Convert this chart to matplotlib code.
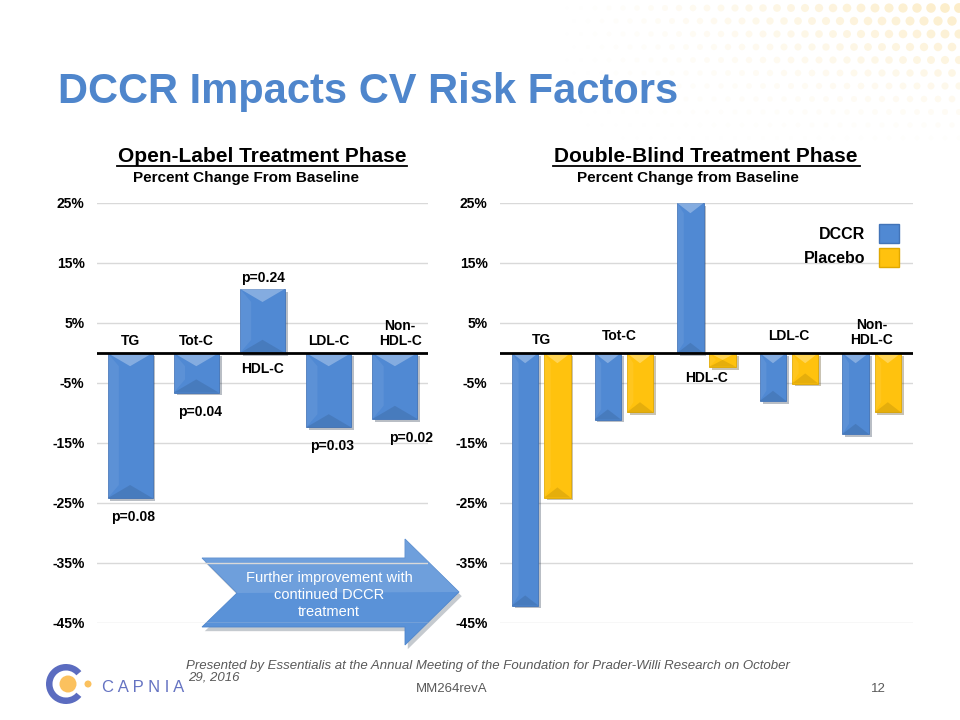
import numpy as np
import matplotlib
matplotlib.use('Agg')
from matplotlib import pyplot as plt
from matplotlib.patches import Polygon, Wedge, Circle, Patch
from matplotlib import patheffects as pe

plt.rcParams['font.family'] = ['Liberation Sans', 'DejaVu Sans']

# data
categories = ['TG', 'Tot-C', 'HDL-C', 'LDL-C', 'Non-\nHDL-C']
open_label = [-24.2, -6.6, 10.7, -12.4, -11.0]
open_pvals = ['p=0.08', 'p=0.04', 'p=0.24', 'p=0.03', 'p=0.02']
dccr = [-42.1, -11.1, 25.0, -8.0, -13.5]
placebo = [-24.1, -9.9, -2.3, -5.1, -9.9]
yticks = [25, 15, 5, -5, -15, -25, -35, -45]

BLUE = '#5089D3'
BLUE_EDGE = '#4274B8'
GOLD = '#FFC20E'
GOLD_EDGE = '#E0A800'
W, H = 960, 720


def px(x, y):
    # pixel position (from top-left) -> figure fraction
    return x / W, 1 - y / H


def style_axes(ax):
    ax.set_ylim(-45, 25)
    ax.set_xlim(-0.5, 4.5)
    ax.set_yticks(yticks)
    ax.set_yticklabels(['%d%%' % v for v in yticks], fontsize=10, fontweight='bold')
    ax.set_xticks([])
    ax.tick_params(axis='y', length=0, pad=9)
    for s in ax.spines.values():
        s.set_visible(False)
    ax.yaxis.grid(True, color='#D9D9D9', lw=1)
    ax.set_axisbelow(True)
    ax.axhline(0, color='black', lw=2, zorder=5)
    ax.patch.set_alpha(0)


def bevel(ax, bars, depth):
    for r in bars:
        x0 = r.get_x()
        x1 = x0 + r.get_width()
        xc = (x0 + x1) / 2
        y0 = r.get_y()
        y1 = y0 + r.get_height()
        top, bot = max(y0, y1), min(y0, y1)
        d = min(depth, (top - bot) / 2)
        ax.add_patch(Polygon([(x0, top), (x1, top), (xc, top - d)], closed=True,
                             facecolor='white', alpha=0.3, lw=0, zorder=4))
        ax.add_patch(Polygon([(x0, bot), (x1, bot), (xc, bot + d)], closed=True,
                             facecolor='black', alpha=0.1, lw=0, zorder=4))
        ax.add_patch(Polygon([(x0, top), (x0 + (x1 - x0) * 0.25, top - d),
                              (x0 + (x1 - x0) * 0.25, bot + d), (x0, bot)], closed=True,
                             facecolor='white', alpha=0.07, lw=0, zorder=4))


shadow = [pe.SimplePatchShadow(offset=(2, -2), alpha=0.3), pe.Normal()]

fig = plt.figure(figsize=(9.6, 7.2), dpi=100)

# faint dotted background in the top right corner
bg = fig.add_axes([0, 0, 1, 1])
bg.set_xlim(0, W)
bg.set_ylim(H, 0)
bg.axis('off')
gx, gy = np.meshgrid(np.arange(560, 975, 14), np.arange(-5, 150, 13))
gx = gx + (np.arange(gy.shape[0])[:, None] % 2) * 7
strength = np.clip((gx - 560) / 400, 0, 1) * np.clip(1 - gy / 150, 0, 1)
cols = np.zeros((gx.size, 4))
cols[:, :3] = matplotlib.colors.to_rgb('#F9D98C')
cols[:, 3] = (strength.ravel() ** 1.2) * 0.5
bg.scatter(gx.ravel(), gy.ravel(), s=45 * strength.ravel() + 8, c=cols, marker='o', lw=0)

fig.text(*px(58, 92), 'DCCR Impacts CV Risk Factors', fontsize=30, fontweight='bold',
         color='#4F86CC', va='center', ha='left')

# ---- left chart: open-label
axL = fig.add_axes([97 / W, 1 - 623 / H, 331 / W, 420 / H])
style_axes(axL)
x = np.arange(len(categories))
barsL = axL.bar(x, open_label, width=0.68, color=BLUE, edgecolor=BLUE_EDGE, lw=0.6,
                zorder=3, path_effects=shadow)
bevel(axL, barsL, 2.2)
for i, (c, v, p) in enumerate(zip(categories, open_label, open_pvals)):
    if v > 0:
        axL.text(i, -1.5, c, ha='center', va='top', fontsize=10, fontweight='bold')
        axL.text(i, v + 0.6, p, ha='center', va='bottom', fontsize=10, fontweight='bold')
    else:
        axL.text(i + (0.08 if i == 4 else 0), 0.9, c, ha='center', va='bottom', fontsize=10,
                 fontweight='bold', linespacing=1.1)
        axL.text(i + (0.24 if i == 4 else 0.05), v - 2.0, p, ha='center', va='top',
                 fontsize=10, fontweight='bold')

fig.text(*px(262, 156), 'Open-Label Treatment Phase', fontsize=15, fontweight='bold',
         ha='center', va='center')
fig.text(*px(246, 178), 'Percent Change From Baseline', fontsize=11, fontweight='bold',
         ha='center', va='center')

# ---- right chart: double-blind
axR = fig.add_axes([500 / W, 1 - 623 / H, 413 / W, 420 / H])
style_axes(axR)
bw = 0.32
barsD = axR.bar(x - 0.195, dccr, width=bw, color=BLUE, edgecolor=BLUE_EDGE, lw=0.6,
                zorder=3, path_effects=shadow, label='DCCR')
barsP = axR.bar(x + 0.195, placebo, width=bw, color=GOLD, edgecolor=GOLD_EDGE, lw=0.6,
                zorder=3, path_effects=shadow, label='Placebo')
bevel(axR, barsD, 1.7)
bevel(axR, barsP, 1.7)
for i, c in enumerate(categories):
    if dccr[i] > 0:
        axR.text(i, -3.0, c, ha='center', va='top', fontsize=10, fontweight='bold')
    else:
        axR.text(i - 0.05 * (i == 1), 1.0 + 0.6 * (i in (1, 3)), c, ha='center', va='bottom',
                 fontsize=10, fontweight='bold', linespacing=1.1)

leg = axR.legend(handles=[Patch(facecolor=BLUE, edgecolor=BLUE_EDGE, label='DCCR'),
                          Patch(facecolor=GOLD, edgecolor=GOLD_EDGE, label='Placebo')],
                 loc='upper right', bbox_to_anchor=(1.0, 0.985), frameon=False,
                 markerfirst=False, handlelength=1.2, handleheight=1.5,
                 prop={'weight': 'bold', 'size': 11.5}, labelspacing=0.3, handletextpad=0.9)

fig.text(*px(706, 156), 'Double-Blind Treatment Phase', fontsize=15, fontweight='bold',
         ha='center', va='center')
fig.text(*px(688, 178), 'Percent Change from Baseline', fontsize=11, fontweight='bold',
         ha='center', va='center')

# underline headings
for xa, xb in [(117, 407), (553, 860)]:
    bg.plot([xa, xb], [166, 166], color='black', lw=1.3)

# ---- big arrow
arrow_pts = [(202, 558), (405, 558), (405, 539), (459, 592), (405, 645),
             (405, 627), (202, 627), (237, 593)]
bg.add_patch(Polygon(arrow_pts, closed=True, facecolor='#5A92D8', edgecolor='#4F86CC',
                     lw=0.6, zorder=6,
                     path_effects=[pe.SimplePatchShadow(offset=(2, -3), alpha=0.25),
                                   pe.Normal()]))
bg.add_patch(Polygon([(202, 558), (405, 558), (405, 539), (459, 592), (237, 593)], closed=True,
                     facecolor='white', alpha=0.12, lw=0, zorder=6))
bg.text(329, 595, 'Further improvement with\ncontinued DCCR\ntreatment', color='white',
        fontsize=10.5, ha='center', va='center', zorder=7, linespacing=1.3)

# ---- footer
bg.add_patch(Wedge((66, 684), 20, 40, 320, width=6.5, facecolor='#5B6CC0', lw=0))
bg.add_patch(Circle((68, 684), 8.5, facecolor='#FBC15E', lw=0))
bg.add_patch(Circle((88, 684), 3.5, facecolor='#FBC15E', lw=0))
bg.text(102, 687, 'C A P N I A', fontsize=12, color='#6573C2', va='center', ha='left')

bg.text(186, 666, 'Presented by Essentialis at the Annual Meeting of the Foundation for '
        'Prader-Willi Research on October', fontsize=9.5, style='italic',
        color='#595959', va='center', ha='left')
bg.text(188, 678, '29, 2016', fontsize=9.5, style='italic',
        color='#595959', va='center', ha='left')
bg.text(452, 689, 'MM264revA', fontsize=9.5, color='#595959', va='center', ha='center')
bg.text(886, 689, '12', fontsize=9.5, color='#595959', va='center', ha='right')

fig.savefig('out.png', dpi=100)
